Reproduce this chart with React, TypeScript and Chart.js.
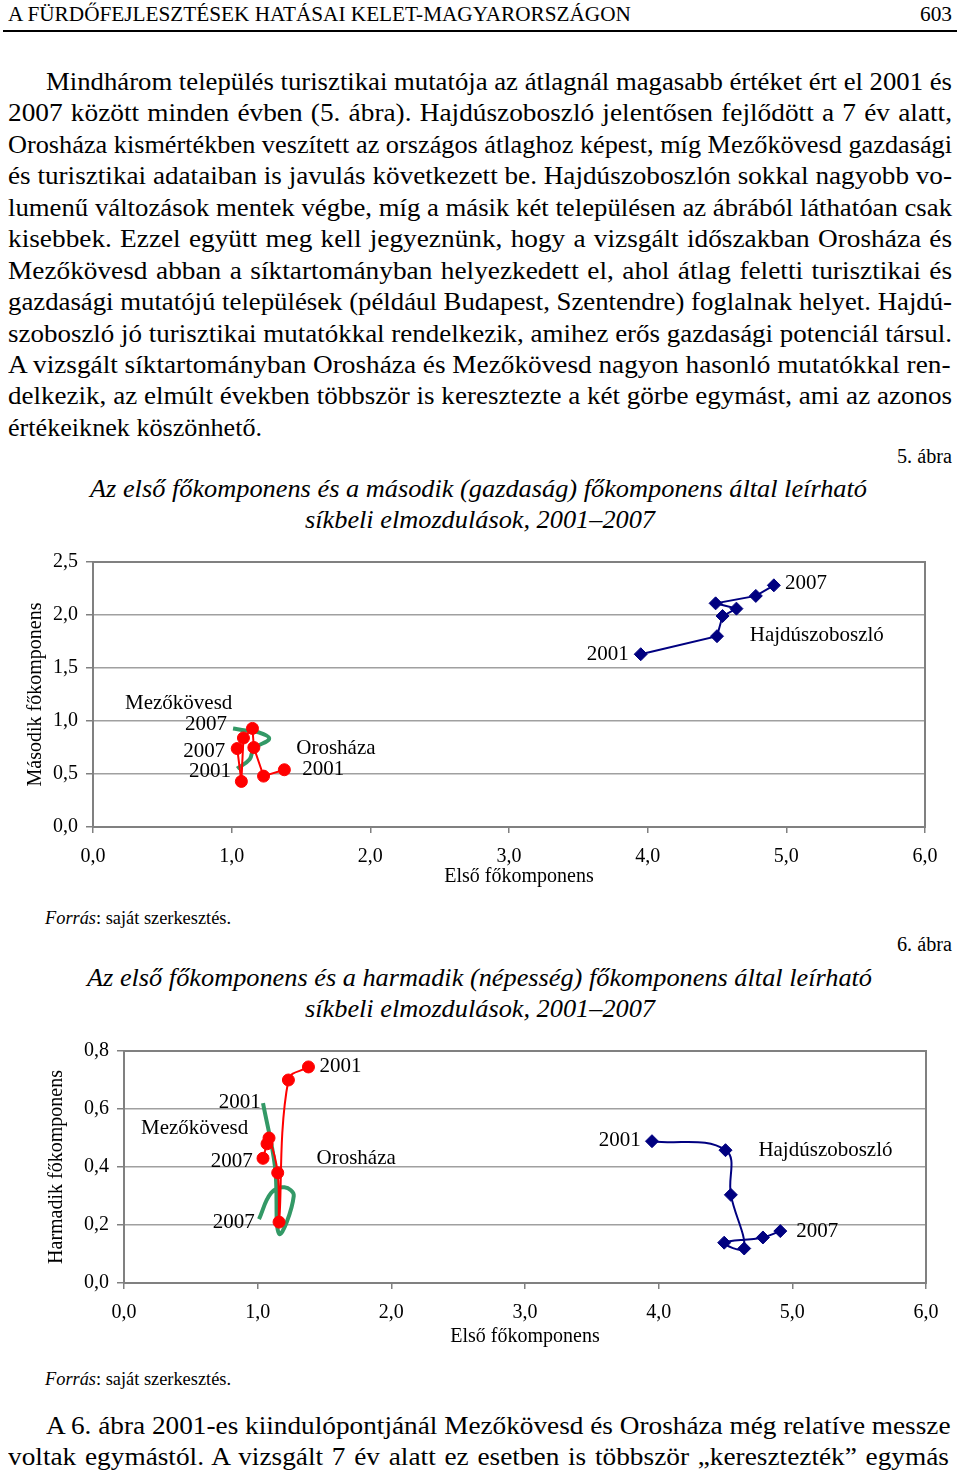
import React, { useEffect, useRef } from 'react';
import { Chart, registerables } from 'chart.js';

Chart.register(...registerables);

const SERIF = '"Liberation Serif", "Times New Roman", serif';

// ---------- data ----------
const YEARS = ['2001', '2002', '2003', '2004', '2005', '2006', '2007'];

// Első főkomponens (x) – közös mindkét ábrán
const HAJDU_X = [3.95, 4.5, 4.54, 4.64, 4.49, 4.78, 4.91];
const OROS_X = [1.38, 1.23, 1.16, 1.15, 1.085, 1.07, 1.04];
const MEZO_X = [1.04, 1.13, 1.16, 1.27, 1.2, 1.1, 1.01];

// Második (gazdaság) főkomponens – 5. ábra
const HAJDU_Y2 = [1.63, 1.8, 1.99, 2.06, 2.11, 2.18, 2.28];
const OROS_Y2 = [0.54, 0.48, 0.75, 0.93, 0.84, 0.43, 0.74];
const MEZO_Y2 = [0.55, 0.64, 0.74, 0.83, 0.89, 0.91, 0.93];

// Harmadik (népesség) főkomponens – 6. ábra
const HAJDU_Y3 = [0.489, 0.458, 0.304, 0.119, 0.139, 0.157, 0.179];
const OROS_Y3 = [0.745, 0.7, 0.21, 0.38, 0.5, 0.48, 0.43];
const MEZO_Y3 = [0.62, 0.4, 0.17, 0.3, 0.33, 0.31, 0.22];

// annotation labels (data coordinates)
const LABELS_5 = [
  { text: 'Mezőkövesd', x: 0.231, y: 1.165 },
  { text: '2007', x: 0.664, y: 0.966 },
  { text: '2007', x: 0.65, y: 0.71 },
  { text: '2001', x: 0.693, y: 0.52 },
  { text: 'Orosháza', x: 1.466, y: 0.739 },
  { text: '2001', x: 1.509, y: 0.54 },
  { text: '2001', x: 3.56, y: 1.63 },
  { text: '2007', x: 4.99, y: 2.3 },
  { text: 'Hajdúszoboszló', x: 4.736, y: 1.81 },
];
const LABELS_6 = [
  { text: '2001', x: 1.463, y: 0.748 },
  { text: '2001', x: 0.709, y: 0.623 },
  { text: 'Mezőkövesd', x: 0.127, y: 0.533 },
  { text: '2007', x: 0.649, y: 0.418 },
  { text: 'Orosháza', x: 1.44, y: 0.429 },
  { text: '2007', x: 0.664, y: 0.21 },
  { text: '2001', x: 3.552, y: 0.491 },
  { text: 'Hajdúszoboszló', x: 4.746, y: 0.457 },
  { text: '2007', x: 5.03, y: 0.176 },
];

const X_TITLE = 'Első főkomponens';

const PARA_1 = [
  'Mindhárom település turisztikai mutatója az átlagnál magasabb értéket ért el 2001 és',
  '2007 között minden évben (5. ábra). Hajdúszoboszló jelentősen fejlődött a 7 év alatt,',
  'Orosháza kismértékben veszített az országos átlaghoz képest, míg Mezőkövesd gazdasági',
  'és turisztikai adataiban is javulás következett be. Hajdúszoboszlón sokkal nagyobb vo-',
  'lumenű változások mentek végbe, míg a másik két településen az ábrából láthatóan csak',
  'kisebbek. Ezzel együtt meg kell jegyeznünk, hogy a vizsgált időszakban Orosháza és',
  'Mezőkövesd abban a síktartományban helyezkedett el, ahol átlag feletti turisztikai és',
  'gazdasági mutatójú települések (például Budapest, Szentendre) foglalnak helyet. Hajdú-',
  'szoboszló jó turisztikai mutatókkal rendelkezik, amihez erős gazdasági potenciál társul.',
  'A vizsgált síktartományban Orosháza és Mezőkövesd nagyon hasonló mutatókkal ren-',
  'delkezik, az elmúlt években többször is keresztezte a két görbe egymást, ami az azonos',
  'értékeiknek köszönhető.',
];
const PARA_2 = [
  'A 6. ábra 2001-es kiindulópontjánál Mezőkövesd és Orosháza még relatíve messze',
  'voltak egymástól. A vizsgált 7 év alatt ez esetben is többször „keresztezték” egymás',
];

const pts = (xs: number[], ys: number[]) => xs.map((x, i) => ({ x, y: ys[i], year: YEARS[i] }));
const fmt = (v: any) => Number(v).toFixed(1).replace('.', ',');

// ---------- text helpers ----------
let mctx: CanvasRenderingContext2D | null = null;
function measure(text: string, size: number, italic = false) {
  if (!mctx) mctx = document.createElement('canvas').getContext('2d');
  if (!mctx) return text.length * size * 0.45;
  mctx.font = `${italic ? 'italic ' : ''}${size}px ${SERIF}`;
  return mctx.measureText(text).width;
}

function TextLine(props: {
  text: string; left: number; width: number; cy: number; size: number;
  italic?: boolean; justify?: boolean; maxScale?: number;
}) {
  const { text, left, width, cy, size, italic = false, justify = false, maxScale = 1.05 } = props;
  const natural = measure(text, size, italic);
  const style: any = {
    position: 'absolute', left, top: cy - size * 0.58, whiteSpace: 'pre',
    fontFamily: SERIF, fontSize: size, lineHeight: `${size}px`,
    fontStyle: italic ? 'italic' : 'normal', color: '#000',
    transformOrigin: 'left top',
  };
  const spaces = (text.match(/ /g) || []).length;
  let k = width / natural;
  if (justify && spaces > 0 && k > maxScale) {
    k = maxScale;
    const extra = width / k - natural;
    style.wordSpacing = `${extra / spaces}px`;
  }
  style.transform = `scaleX(${k})`;
  return <div style={style}>{text}</div>;
}

function Source({ cy }: { cy: number }) {
  const size = 18;
  const a = 'Forrás';
  const b = ': saját szerkesztés.';
  const natural = measure(a, size, true) + measure(b, size, false);
  const k = 186 / natural;
  return (
    <div style={{
      position: 'absolute', left: 45, top: cy - size * 0.58, whiteSpace: 'pre',
      fontFamily: SERIF, fontSize: size, lineHeight: `${size}px`, color: '#000',
      transform: `scaleX(${k})`, transformOrigin: 'left top',
    }}>
      <i>{a}</i>{b}
    </div>
  );
}

// ---------- chart ----------
const framePlugin = {
  id: 'frame',
  beforeDatasetsDraw(chart: any) {
    const { ctx, chartArea: a } = chart;
    ctx.save();
    ctx.strokeStyle = '#808080';
    ctx.lineWidth = 2;
    ctx.strokeRect(a.left, a.top, a.right - a.left, a.bottom - a.top);
    ctx.restore();
  },
};

const labelPlugin = {
  id: 'pointLabels',
  afterDatasetsDraw(chart: any, _args: any, opts: any) {
    const { ctx, scales, chartArea } = chart;
    ctx.save();
    ctx.fillStyle = '#000';
    ctx.font = `21px ${SERIF}`;
    ctx.textAlign = 'left';
    ctx.textBaseline = 'middle';
    (opts.items || []).forEach((l: any) => {
      ctx.fillText(l.text, scales.x.getPixelForValue(l.x), scales.y.getPixelForValue(l.y));
    });
    // x axis title
    ctx.font = `20px ${SERIF}`;
    ctx.textAlign = 'center';
    ctx.fillText(opts.xTitle, (chartArea.left + chartArea.right) / 2 + (opts.xTitleShift || 0), chartArea.bottom + opts.xTitleGap);
    ctx.restore();
  },
};

function PlotChart(props: {
  top: number; height: number; yWidth: number; xHeight: number; padTop: number; padRight: number;
  yMax: number; yStep: number; yTitle: string; yTitlePad: number; smooth: number;
  xTitleShift: number; xTitleGap: number;
  hajdu: number[]; oros: number[]; mezo: number[]; labels: any[];
}) {
  const ref = useRef<HTMLCanvasElement>(null);
  useEffect(() => {
    if (!ref.current) return;
    const font = { family: SERIF, size: 20 };
    const chart = new Chart(ref.current, {
      type: 'scatter',
      data: {
        datasets: [
          {
            label: 'Hajdúszoboszló',
            data: pts(HAJDU_X, props.hajdu),
            showLine: true,
            borderColor: '#000080',
            backgroundColor: '#000080',
            borderWidth: 2,
            pointStyle: 'rectRot',
            pointRadius: 6.5,
            pointBorderWidth: 1,
            tension: props.smooth,
          },
          {
            label: 'Orosháza',
            data: pts(OROS_X, props.oros),
            showLine: true,
            borderColor: '#ff0000',
            backgroundColor: '#ff0000',
            borderWidth: 2,
            pointStyle: 'circle',
            pointRadius: 6,
            pointBorderWidth: 1,
            tension: props.smooth,
          },
          {
            label: 'Mezőkövesd',
            data: pts(MEZO_X, props.mezo),
            showLine: true,
            borderColor: '#339966',
            backgroundColor: '#339966',
            borderWidth: 4,
            pointRadius: 0,
            tension: 0.4,
          },
        ] as any,
      },
      options: {
        animation: false,
        responsive: false,
        devicePixelRatio: 1,
        layout: { padding: { left: 0, top: props.padTop, right: props.padRight, bottom: 0 } },
        plugins: {
          legend: { display: false },
          tooltip: { enabled: false },
          pointLabels: { items: props.labels, xTitle: X_TITLE, xTitleShift: props.xTitleShift, xTitleGap: props.xTitleGap },
        } as any,
        scales: {
          x: {
            type: 'linear',
            min: 0,
            max: 6,
            afterFit: (s: any) => { s.height = props.xHeight; },
            ticks: { stepSize: 1, font, color: '#000', padding: 12, callback: fmt },
            grid: { display: true, drawOnChartArea: false, drawTicks: true, tickLength: 6, color: '#808080', lineWidth: 1.5 },
            border: { display: true, color: '#808080', width: 2 },
            title: { display: false },
          },
          y: {
            type: 'linear',
            min: 0,
            max: props.yMax,
            afterFit: (s: any) => { s.width = props.yWidth; },
            ticks: { stepSize: props.yStep, font, color: '#000', padding: 8, callback: fmt },
            grid: { color: '#a0a0a0', lineWidth: 1.5, tickLength: 7, tickColor: '#808080' },
            border: { display: true, color: '#808080', width: 2 },
            title: { display: true, text: props.yTitle, font, color: '#000', padding: { top: props.yTitlePad, bottom: 0 } },
          },
        } as any,
      },
      plugins: [framePlugin, labelPlugin],
    } as any);
    return () => chart.destroy();
  }, []);
  return (
    <canvas
      ref={ref}
      width={960}
      height={props.height}
      style={{ position: 'absolute', left: 0, top: props.top, width: 960, height: props.height }}
    />
  );
}

export default function App() {
  const paraTop = 84;
  const pitch = 31.45;
  return (
    <div style={{ position: 'absolute', left: 0, top: 0, width: 960, height: 1475, background: '#fff', overflow: 'hidden' }}>
      <TextLine text="A FÜRDŐFEJLESZTÉSEK HATÁSAI KELET-MAGYARORSZÁGON" left={8} width={624} cy={16} size={21} />
      <TextLine text="603" left={920} width={32} cy={16} size={21} />
      <div style={{ position: 'absolute', left: 3, top: 30, width: 954, height: 2, background: '#000' }} />

      {PARA_1.map((t, i) => {
        const last = i === PARA_1.length - 1;
        const left = i === 0 ? 46 : 8;
        const width = last ? 254 : 952 - left;
        return <TextLine key={i} text={t} left={left} width={width} cy={paraTop + i * pitch} size={26} justify={!last} />;
      })}

      <TextLine text="5. ábra" left={897} width={55} cy={458} size={20} />
      <TextLine text="Az első főkomponens és a második (gazdaság) főkomponens által leírható" left={90} width={777} cy={490} size={25} italic />
      <TextLine text="síkbeli elmozdulások, 2001–2007" left={305} width={350} cy={521} size={25} italic />

      <PlotChart
        top={540} height={360} yWidth={93} xHeight={73} padTop={22} padRight={35}
        yMax={2.5} yStep={0.5} yTitle="Második főkomponens" yTitlePad={24} smooth={0}
        xTitleShift={10} xTitleGap={50}
        hajdu={HAJDU_Y2} oros={OROS_Y2} mezo={MEZO_Y2} labels={LABELS_5}
      />

      <Source cy={919} />
      <TextLine text="6. ábra" left={897} width={55} cy={946} size={20} />
      <TextLine text="Az első főkomponens és a harmadik (népesség) főkomponens által leírható" left={87} width={785} cy={979} size={25} italic />
      <TextLine text="síkbeli elmozdulások, 2001–2007" left={305} width={350} cy={1010} size={25} italic />

      <PlotChart
        top={1030} height={330} yWidth={124} xHeight={77} padTop={21} padRight={34}
        yMax={0.8} yStep={0.2} yTitle="Harmadik főkomponens" yTitlePad={45} smooth={0.4}
        xTitleShift={0} xTitleGap={54}
        hajdu={HAJDU_Y3} oros={OROS_Y3} mezo={MEZO_Y3} labels={LABELS_6}
      />

      <Source cy={1380} />
      <TextLine text={PARA_2[0]} left={46} width={906} cy={1428} size={26} justify />
      <TextLine text={PARA_2[1]} left={8} width={944} cy={1459} size={26} justify />
    </div>
  );
}
